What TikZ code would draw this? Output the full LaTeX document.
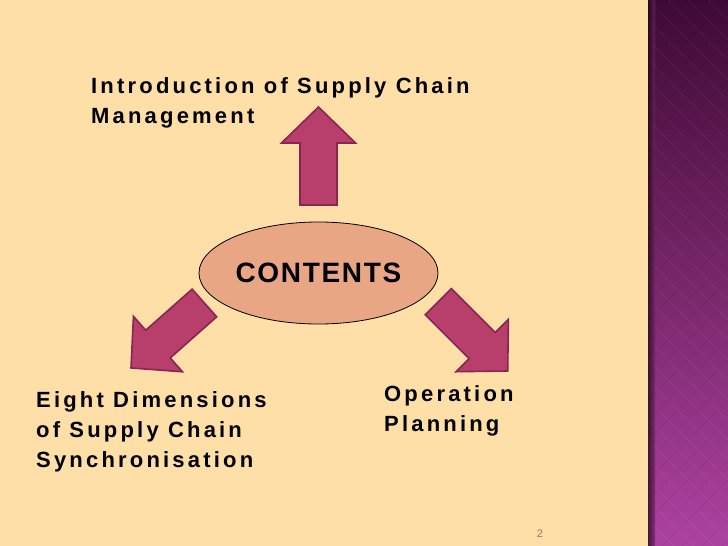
\documentclass[tikz,border=0pt]{standalone}
\usepackage{fontspec}
\setmainfont{Liberation Sans}
\newfontfamily\spacedfont[LetterSpace=14.5]{Liberation Sans}
\newfontfamily\titlefont[LetterSpace=6]{Liberation Sans}
\usetikzlibrary{shapes.geometric}
\definecolor{bg}{RGB}{254,223,168}
\definecolor{stripTop}{RGB}{62,10,52}
\definecolor{stripMid}{RGB}{118,38,104}
\definecolor{stripBot}{RGB}{172,66,160}
\definecolor{arrowFill}{RGB}{184,62,108}
\definecolor{arrowLine}{RGB}{138,36,80}
\definecolor{ellFill}{RGB}{233,166,132}
\definecolor{pageNum}{RGB}{200,100,112}
\tikzset{
  bigarrow/.style={fill=arrowFill, draw=arrowLine, line width=1.6pt, line join=miter},
  label text/.style={font=\spacedfont\bfseries\fontsize{22}{30}\selectfont, align=left, inner sep=0pt, anchor=base west},
}
\newcommand\arrowshape{(0,-18.5) -- (62,-18.5) -- (62,-37) -- (98,0) -- (62,37) -- (62,18.5) -- (0,18.5) -- cycle}
\begin{document}
\begin{tikzpicture}[x=1pt,y=-1pt]
\useasboundingbox (0,0) rectangle (728,546);
\fill[bg] (0,0) rectangle (648,546);
% right decorative strip
\shade[top color=stripTop, bottom color=stripBot, middle color=stripMid] (648,0) rectangle (728,546);
\begin{scope}
  \clip (648,0) rectangle (728,546);
  \foreach \k in {-30,...,40} {
    \draw[white, opacity=0.05, line width=1pt] (648+\k*20,0) -- ++(546,546);
    \draw[black, opacity=0.05, line width=1pt] (648+\k*20,0) -- ++(-546,546);
  }
\end{scope}
\shade[left color=black!80!stripMid, right color=stripMid, opacity=0.7] (648,0) rectangle (655,546);
% arrows
\begin{scope}[shift={(318.5,205)}, rotate=90]
  \draw[bigarrow] \arrowshape;
\end{scope}
\begin{scope}[shift={(438.4,301.7)}, rotate=-45]
  \draw[bigarrow] \arrowshape;
\end{scope}
\begin{scope}[shift={(204.4,303)}, rotate=221.5]
  \draw[bigarrow] \arrowshape;
\end{scope}
% central ellipse
\node[ellipse, draw=black, line width=0.8pt, fill=ellFill, minimum width=239pt, minimum height=102pt, inner sep=0pt,
      font=\titlefont\bfseries\fontsize{28}{32}\selectfont] (contents) at (318.5,273) {CONTENTS};
% labels (anchored at the baseline of the last line)
\node[label text] (intro) at (91,123.3) {Introduction of Supply Chain\\Management};
\node[label text] (eight) at (36,467.3) {Eight Dimensions\\of Supply Chain\\Synchronisation};
\node[label text] (oper) at (384,431.7) {Operation\\Planning};
\node[font=\fontsize{11}{12}\selectfont, text=pageNum, inner sep=0pt] (pg) at (540,534) {2};
\end{tikzpicture}
\end{document}
